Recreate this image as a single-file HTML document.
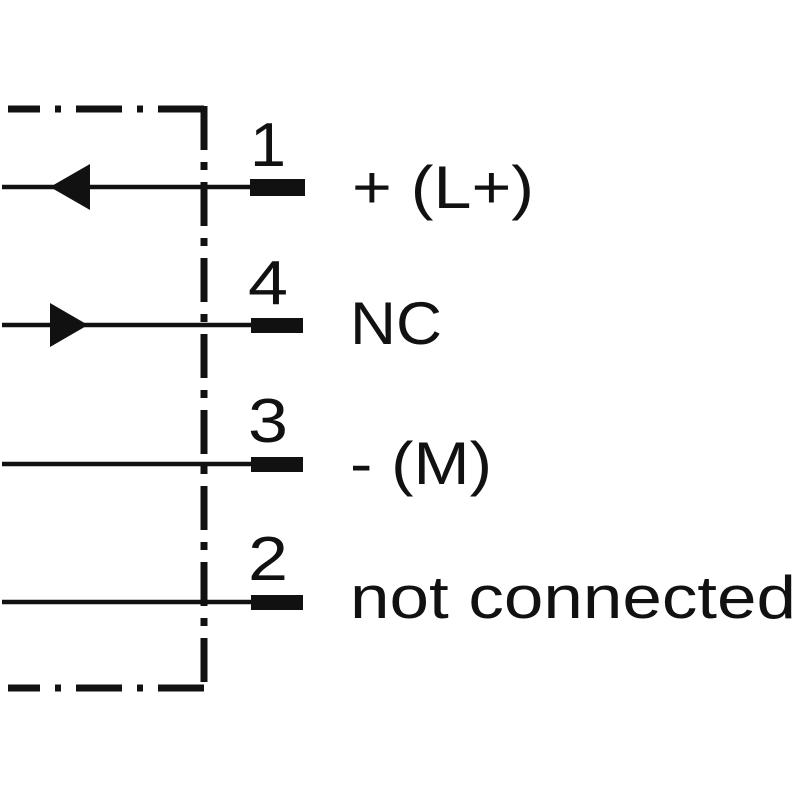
<!DOCTYPE html>
<html><head><style>html,body{margin:0;padding:0;background:#fff}</style></head>
<body>
<svg width="800" height="800" viewBox="0 0 800 800" xmlns="http://www.w3.org/2000/svg">
<g stroke="#111" fill="none">
  <path d="M204 109 H8" stroke-width="7" stroke-dasharray="46 15 6 15"/>
  <path d="M204 688 H8" stroke-width="7" stroke-dasharray="46 15 6 15"/>
  <path d="M204 106 V691" stroke-width="7" stroke-dasharray="44 12 8 12"/>
  <g stroke-width="4.5">
    <line x1="2" y1="187" x2="255" y2="187"/>
    <line x1="2" y1="325" x2="255" y2="325"/>
    <line x1="2" y1="464" x2="255" y2="464"/>
    <line x1="2" y1="602" x2="255" y2="602"/>
  </g>
</g>
<g fill="#111">
  <rect x="250" y="179" width="55" height="17"/>
  <rect x="251" y="318" width="52" height="15"/>
  <rect x="251" y="457" width="52" height="15"/>
  <rect x="251" y="595" width="52" height="15"/>
  <polygon points="50,187 90,164 90,210"/>
  <polygon points="50,303 88,325 50,347"/>
</g>
<g font-family="Liberation Sans, sans-serif" fill="#111">
  <g font-size="62">
    <text x="250" y="166" textLength="36" lengthAdjust="spacingAndGlyphs">1</text>
    <text x="248" y="304" textLength="40" lengthAdjust="spacingAndGlyphs">4</text>
    <text x="248" y="442" textLength="40" lengthAdjust="spacingAndGlyphs">3</text>
    <text x="248" y="580" textLength="40" lengthAdjust="spacingAndGlyphs">2</text>
  </g>
  <g font-size="60">
    <text x="352" y="208" textLength="182" lengthAdjust="spacingAndGlyphs">+ (L+)</text>
    <text x="350" y="344" textLength="92" lengthAdjust="spacingAndGlyphs">NC</text>
    <text x="350" y="484" textLength="142" lengthAdjust="spacingAndGlyphs">- (M)</text>
    <text x="350" y="618" textLength="446" lengthAdjust="spacingAndGlyphs">not connected</text>
  </g>
</g>
</svg>
</body></html>
